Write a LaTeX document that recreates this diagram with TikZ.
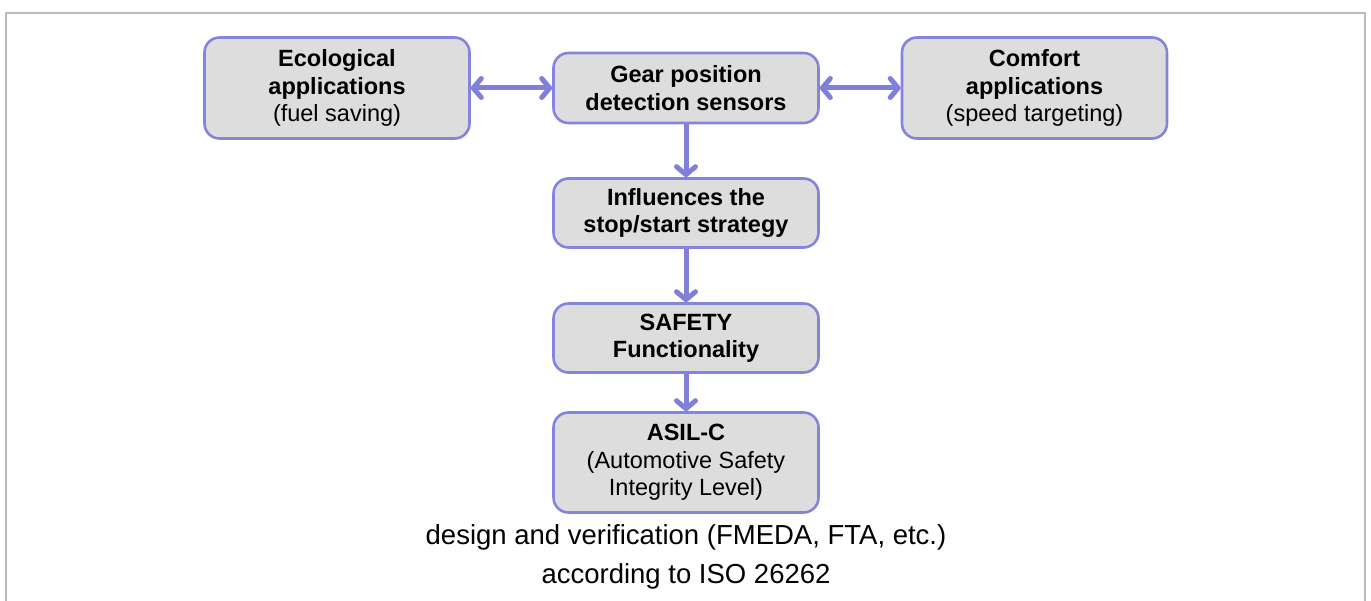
\documentclass[tikz,border=0pt]{standalone}
\usepackage{fontspec}
\setmainfont{Liberation Sans}
\usetikzlibrary{arrows.meta}
\definecolor{framegray}{HTML}{BBBBBB}
\definecolor{boxfill}{HTML}{DDDDDD}
\definecolor{boxline}{HTML}{8484DC}
\definecolor{arrowcol}{HTML}{8080D8}
\tikzset{
  flowbox/.style={draw=boxline, fill=boxfill, line width=2.6pt, rounded corners=15pt,
    minimum width=265pt, align=center, inner sep=0pt,
    font=\fontsize{23.5}{27.5}\selectfont},
  conn/.style={draw=arrowcol, line width=5pt,
    -{Straight Barb[length=8pt,width=19pt,line cap=round,line join=round]}},
  biconn/.style={draw=arrowcol, line width=5pt,
    {Straight Barb[length=8pt,width=19pt,line cap=round,line join=round]}-{Straight Barb[length=8pt,width=19pt,line cap=round,line join=round]}},
}
\begin{document}
\begin{tikzpicture}[x=1pt,y=-1pt]
\useasboundingbox (0,0) rectangle (1371,601);
\draw[framegray, line width=2.5pt] (6,610) -- (6,13) -- (1365,13) -- (1365,610);

\node[flowbox, minimum height=101pt] (eco) at (337,88) {\textbf{Ecological}\\\textbf{applications}\\(fuel saving)};
\node[flowbox, minimum height=70pt] (gear) at (686,88) {\textbf{Gear position}\\\textbf{detection sensors}};
\node[flowbox, minimum height=101pt] (comf) at (1034.5,88) {\textbf{Comfort}\\\textbf{applications}\\(speed targeting)};
\node[flowbox, minimum height=69pt] (infl) at (686,213) {\textbf{Influences the}\\\textbf{stop/start strategy}};
\node[flowbox, minimum height=69pt] (safe) at (686,338) {\textbf{SAFETY}\\\textbf{Functionality}};
\node[flowbox, minimum height=100pt] (asil) at (686,462.5) {\textbf{ASIL-C}\\(Automotive Safety\\Integrity Level)};

\draw[biconn] (eco.east) -- (gear.west);
\draw[biconn] (gear.east) -- (comf.west);
\draw[conn] (gear.south) -- (infl.north);
\draw[conn] (infl.south) -- (safe.north);
\draw[conn] (safe.south) -- (asil.north);

\node[align=center, inner sep=0pt, font=\fontsize{27.5}{39}\selectfont, anchor=north] (note) at (686,524)
  {design and verification (FMEDA, FTA, etc.)\\according to ISO 26262};
\end{tikzpicture}
\end{document}
